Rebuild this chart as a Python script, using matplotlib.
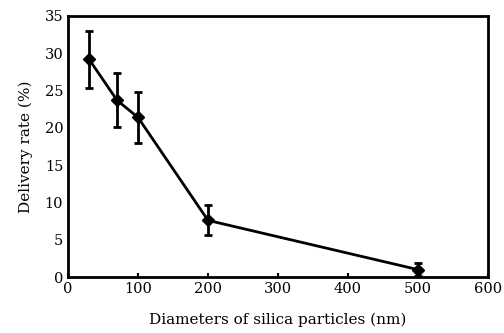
import matplotlib
matplotlib.use("Agg")
import matplotlib.pyplot as plt

diameters = [30, 70, 100, 200, 500]
delivery = [29.2, 23.7, 21.4, 7.6, 1.0]
errors = [3.8, 3.65, 3.45, 2.0, 0.9]
xticks = [0, 100, 200, 300, 400, 500, 600]
yticks = [0, 5, 10, 15, 20, 25, 30, 35]

plt.rcParams['font.family'] = ['DejaVu Serif']
fig = plt.figure(figsize=(5.04, 3.33), dpi=100)
ax = fig.add_axes([0.135, 0.168, 0.833, 0.784])
ax.errorbar(diameters, delivery, yerr=errors, color='black', lw=2,
            marker='D', markersize=6, capsize=3, capthick=2, elinewidth=2)
ax.set_xlim(0, 600)
ax.set_ylim(0, 35)
ax.set_xticks(xticks)
ax.set_yticks(yticks)
ax.tick_params(direction='in', length=3, width=1.5, labelsize=10.5, colors='black')
ax.tick_params(axis='y', length=0)
for s in ax.spines.values():
    s.set_linewidth(2)
ax.set_xlabel('Diameters of silica particles (nm)', fontsize=11, labelpad=12)
ax.set_ylabel('Delivery rate (%)', fontsize=11, labelpad=8)
fig.savefig('out.png', dpi=100)
